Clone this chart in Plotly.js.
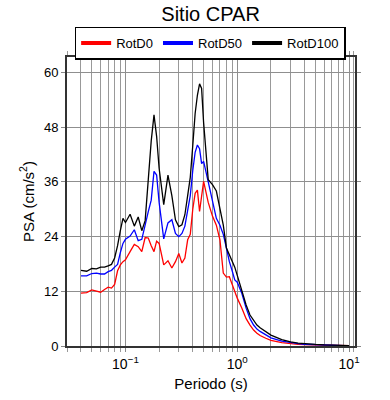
<!DOCTYPE html>
<html><head><meta charset="utf-8">
<script src="https://cdn.plot.ly/plotly-3.0.1.min.js"></script>
<style>html,body{margin:0;padding:0;background:#fff}#chart{width:390px;height:400px}</style>
</head><body><div id="chart"></div>
<script>
const periods = [0.04,0.045,0.05,0.055,0.06,0.065,0.07,0.075,0.08,0.085,0.09,0.095,0.1,0.11,0.12,0.13,0.14,0.15,0.16,0.17,0.18,0.19,0.2,0.22,0.24,0.26,0.28,0.3,0.32,0.34,0.36,0.38,0.4,0.42,0.44,0.46,0.48,0.5,0.55,0.6,0.65,0.7,0.75,0.8,0.85,0.9,0.95,1.0,1.1,1.2,1.3,1.4,1.5,1.6,1.8,2.0,2.5,3.0,3.5,4.0,5.0,6.0,7.0,8.0,9.0,10.0];

const rotD0 = [11.6,11.7,12.3,12.1,11.8,12.4,12.9,12.7,13.5,16.5,17.8,18.5,18.9,20.7,22.3,21.8,20.7,23.8,23.7,22.0,20.7,23.0,22.5,17.8,18.7,17.1,18.5,20.3,18.2,19.3,23.3,24.5,30.0,33.5,34.2,29.5,33.0,36.1,31.5,28.5,26.5,23.3,16.0,15.1,15.2,13.5,12.0,10.5,8.3,6.0,4.6,3.5,2.8,2.3,1.7,1.25,0.75,0.5,0.36,0.28,0.19,0.13,0.1,0.08,0.06,0.05];

const rotD50 = [15.4,15.4,15.9,16.0,15.8,15.8,16.3,16.6,17.3,17.9,20.5,22.5,23.4,24.1,25.5,23.1,23.4,26.9,29.5,32.0,38.3,37.5,31.5,23.5,27.0,27.7,24.7,24.0,24.7,26.3,29.5,33.0,38.5,42.5,44.1,43.3,40.0,40.5,36.0,32.0,28.0,26.5,24.5,21.5,18.5,16.5,14.5,14.0,11.5,8.3,6.0,4.6,3.7,3.2,2.4,1.8,1.05,0.7,0.5,0.38,0.26,0.18,0.13,0.1,0.08,0.07];

const rotD100 = [16.6,16.4,17.0,16.9,17.3,17.3,17.6,17.9,19.3,22.0,25.3,28.0,27.1,28.9,26.3,28.3,25.3,27.5,36.5,45.0,50.7,46.0,39.0,31.0,37.5,33.0,27.7,26.2,26.6,28.8,33.0,37.0,44.0,51.0,55.0,57.5,56.5,49.0,36.5,35.4,34.0,30.0,26.5,21.5,20.0,18.8,17.3,15.5,12.0,9.0,6.8,5.6,4.6,4.0,3.1,2.4,1.4,0.9,0.65,0.5,0.35,0.25,0.18,0.14,0.11,0.09];

const seriesNames = ['RotD0','RotD50','RotD100'];
const seriesColors = ['#ff0000','#0000ff','#000000'];
const xTickVals = [0.1, 1, 10];
const xTickText = ['10<sup>\u22121</sup>','10<sup>0</sup>','10<sup>1</sup>'];
const xMinorVals = [0.03,0.04,0.05,0.06,0.07,0.08,0.09,0.2,0.3,0.4,0.5,0.6,0.7,0.8,0.9,2,3,4,5,6,7,8,9,11];
const yTickVals = [0,12,24,36,48,60];

const allY = [rotD0, rotD50, rotD100];
const traces = [];
allY.forEach((ys, i) => {
  traces.push({x: periods, y: ys, type: 'scatter', mode: 'lines', name: seriesNames[i],
    line: {color: seriesColors[i], width: 1.3}, showlegend: false, hoverinfo: 'skip'});
});
allY.forEach((ys, i) => {
  traces.push({x: [null], y: [null], type: 'scatter', mode: 'lines', name: seriesNames[i],
    line: {color: seriesColors[i], width: 4}, showlegend: true});
});

const font = 'Liberation Sans, Arial, Helvetica, sans-serif';
const layout = {
  width: 390, height: 400,
  margin: {l: 67, r: 35, t: 57, b: 54},
  paper_bgcolor: '#fff', plot_bgcolor: '#fff',
  font: {family: font, color: '#000', size: 13},
  title: {text: 'Sitio CPAR', font: {size: 20, family: font}, x: 0.54, xanchor: 'center', y: 0.965, yanchor: 'middle'},
  showlegend: true,
  legend: {orientation: 'h', x: 0.497, xanchor: 'center', y: 1.105, yanchor: 'top',
    bordercolor: '#000', borderwidth: 1.5, font: {size: 13, family: font},
    traceorder: 'normal', itemwidth: 30},
  xaxis: {
    type: 'log', range: [Math.log10(0.03), Math.log10(11.3)],
    tickmode: 'array', tickvals: xTickVals, ticktext: xTickText,
    ticks: 'outside', ticklen: 4, tickcolor: '#888', tickwidth: 1,
    showgrid: true, gridcolor: '#8f8f8f', gridwidth: 1,
    minor: {tickmode: 'array', tickvals: xMinorVals, ticks: 'outside', ticklen: 4, tickcolor: '#999', showgrid: true, gridcolor: '#999', gridwidth: 1},
    showline: true, linecolor: '#333', linewidth: 2, mirror: 'allticks',
    zeroline: false, tickfont: {size: 14},
    title: {text: 'Periodo (s)', font: {size: 15}, standoff: 8}
  },
  yaxis: {
    range: [0, 63.4], tickmode: 'array', tickvals: yTickVals,
    ticks: 'outside', ticklen: 4, tickcolor: '#888', tickwidth: 1,
    showgrid: true, gridcolor: '#8f8f8f', gridwidth: 1,
    showline: true, linecolor: '#333', linewidth: 2, mirror: 'allticks',
    zeroline: false, tickfont: {size: 13},
    title: {text: 'PSA (cm/s<sup>2</sup>)', font: {size: 15}, standoff: 6}
  }
};
Plotly.newPlot('chart', traces, layout, {staticPlot: true, displayModeBar: false});
</script>
</body></html>
